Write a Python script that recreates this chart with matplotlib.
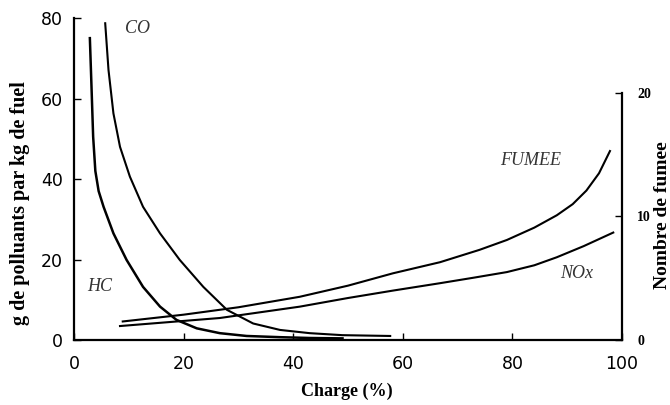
import matplotlib
matplotlib.use('Agg')
from matplotlib import pyplot as plt

# courbes (charge en %)
hc_x = [2.9, 3.2, 3.5, 3.9, 4.5, 5.4, 7.2, 9.6, 12.6, 15.7, 18.7, 22.4, 26.6, 31.5, 37.6, 43.0, 49.0]
hc_y = [75.0, 62.9, 50.5, 42.0, 37.0, 33.1, 26.5, 19.9, 13.2, 8.3, 5.0, 2.9, 1.7, 1.0, 0.7, 0.5, 0.4]

co_x = [5.7, 6.3, 7.2, 8.4, 10.2, 12.6, 15.7, 19.3, 23.6, 27.9, 32.7, 37.6, 43.0, 49.0, 57.7]
co_y = [78.7, 67.1, 56.3, 48.0, 40.6, 33.1, 26.5, 19.9, 13.2, 7.5, 4.1, 2.5, 1.7, 1.2, 1.0]

# axe de droite (nombre de fumee)
fumee_x = [8.9, 20.0, 30.0, 41.2, 50.0, 58.2, 66.8, 74.0, 79.0, 84.0, 88.1, 91.0, 93.5, 95.8, 97.8]
fumee_y = [1.5, 2.05, 2.65, 3.5, 4.4, 5.4, 6.3, 7.3, 8.1, 9.1, 10.1, 11.0, 12.1, 13.5, 15.3]

nox_x = [8.4, 26.6, 41.2, 50.0, 58.2, 66.8, 73.0, 79.0, 84.0, 88.1, 93.0, 98.4]
nox_y = [1.13, 1.78, 2.7, 3.4, 4.0, 4.6, 5.05, 5.5, 6.05, 6.7, 7.6, 8.7]

x_ticks = [0, 20, 40, 60, 80, 100]
left_ticks = [0, 20, 40, 60, 80]
right_ticks = [0, 10, 20]

fig = plt.figure(figsize=(6.7, 4.05), dpi=100)
ax = fig.add_axes([0.1104, 0.1605, 0.818, 0.795])
ax2 = ax.twinx()

ax.plot(hc_x, hc_y, color='black', linewidth=1.8, solid_joinstyle='round')
ax.plot(co_x, co_y, color='black', linewidth=1.5, solid_joinstyle='round')
ax2.plot(fumee_x, fumee_y, color='black', linewidth=1.5, solid_joinstyle='round')
ax2.plot(nox_x, nox_y, color='black', linewidth=1.5, solid_joinstyle='round')

ax.set_xlim(0, 100)
ax.set_ylim(0, 80)
ax2.set_ylim(0, 26.07)

ax.set_xticks(x_ticks)
ax.set_yticks(left_ticks)
ax2.set_yticks(right_ticks)

for s in ['top', 'right']:
    ax.spines[s].set_visible(False)
for s in ['top', 'left', 'bottom']:
    ax2.spines[s].set_visible(False)
ax2.spines['right'].set_bounds(0, 20)
for sp in [ax.spines['left'], ax.spines['bottom'], ax2.spines['right']]:
    sp.set_linewidth(1.6)

ax.tick_params(axis='both', direction='in', length=5, width=1, labelsize=12.5)
ax.tick_params(axis='y', pad=8)
ax.tick_params(axis='x', pad=11)
for lab in ax.get_xticklabels() + ax.get_yticklabels():
    lab.set_fontfamily('DejaVu Sans')
ax2.tick_params(axis='y', direction='in', length=5, width=1, pad=11)
for lab in ax2.get_yticklabels():
    lab.set_fontfamily('Liberation Serif')
    lab.set_fontweight('bold')
    lab.set_fontsize(10)

ax.set_xlabel('Charge (%)', family='Liberation Serif', weight='bold', size=13)
ax.xaxis.set_label_coords(0.498, -0.132)
ax.set_ylabel('g de polluants par kg de fuel', family='Liberation Serif', weight='bold', size=14.5)
ax.yaxis.set_label_coords(-0.08, 0.425)
ax2.set_ylabel('Nombre de fumee', family='Liberation Serif', weight='bold', size=14)
ax2.yaxis.set_label_coords(1.059, 0.388)

lab_style = dict(family='Liberation Serif', style='italic', size=13, color='#333333', va='center')
ax.text(9.3, 77.3, 'CO', **lab_style)
ax.text(2.4, 13.2, 'HC', **lab_style)
ax.text(77.7, 44.5, 'FUMEE', **lab_style)
ax.text(88.7, 16.6, 'NOx', **lab_style)

fig.savefig('out.png', dpi=100)
